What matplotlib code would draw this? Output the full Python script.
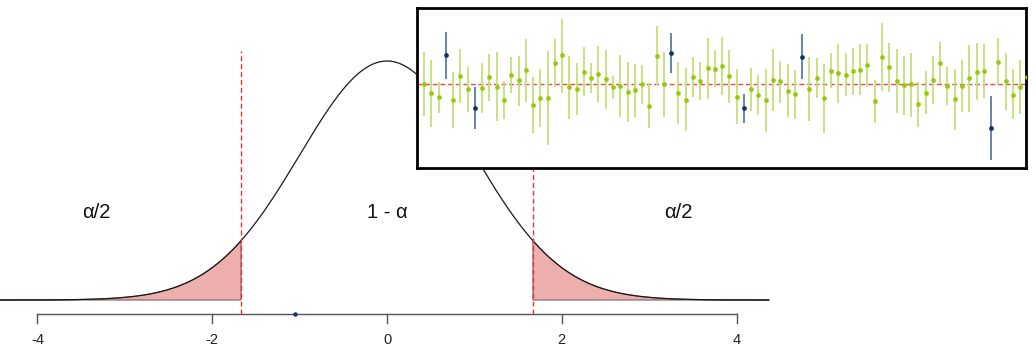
import numpy as np
import matplotlib.pyplot as plt

plt.rcParams['font.family'] = ['Liberation Sans', 'DejaVu Sans']

# --- main panel ---
crit = 1.67                      # dashed cut-offs at +/- crit
tick_vals = [-4, -2, 0, 2, 4]
region_labels = ["\u03b1/2", "1 - \u03b1", "\u03b1/2"]
region_x = [-3.33, 0.0, 3.33]
stray_dot_x = [-1.05]

# --- inset: 84 simulated intervals, relative to true value (0) ---
ci_mid = [0.00, -0.93, -1.37, 2.87, -1.63, 0.80, -0.53, -2.47, -0.43, 0.67,
          -0.30, -1.63, 0.90, 0.33, 1.33, -2.10, -1.43, -1.43, 2.10, 2.83,
          -0.33, -0.53, 1.20, 0.57, 0.97, 0.43, -0.37, -0.27, -0.80, -0.67,
          -0.07, -2.20, 2.80, -0.03, 3.10, -0.90, -1.60, 0.70, 0.30, 1.53,
          1.50, 1.80, 0.73, -1.30, -2.47, -0.57, -1.13, -1.67, 0.37, 0.23,
          -0.70, -1.03, 2.70, -0.57, 0.60, -1.47, 1.30, 1.03, 0.90, 1.27,
          1.40, 1.90, -1.77, 2.67, 1.63, 0.23, -0.17, -0.07, -2.00, -0.90,
          0.40, 2.07, -0.23, -1.57, -0.23, 0.53, 1.20, 1.27, -4.40, 2.17,
          0.27, -1.13, -0.33, 0.63]
ci_hi = [3.20, 2.37, 0.20, 5.17, 1.17, 3.47, 1.70, -0.37, 2.10, 2.97,
         3.13, 0.30, 2.70, 2.77, 4.43, 0.63, 1.47, 3.27, 4.43, 6.47,
         2.80, 2.10, 3.63, 2.10, 3.73, 3.33, 0.80, 2.83, 2.17, 1.97,
         1.83, 0.03, 5.77, 3.20, 5.10, 2.20, 1.53, 2.70, 2.20, 4.57,
         3.37, 4.70, 3.33, 1.43, -1.07, 1.53, 0.83, 1.43, 3.50, 2.27,
         1.93, 1.37, 4.93, 2.67, 2.57, 1.97, 3.10, 4.00, 3.07, 3.60,
         3.97, 4.00, 0.37, 6.03, 4.10, 3.43, 2.80, 3.10, 0.20, 1.27,
         2.80, 4.20, 1.70, 1.50, 2.33, 3.87, 4.07, 4.00, -1.20, 4.57,
         3.10, 1.47, 2.37, 3.37]
ci_lo = [-3.23, -4.30, -2.97, 0.50, -4.47, -1.97, -2.80, -4.57, -2.97, -1.70,
         -3.70, -3.57, -0.90, -2.20, -1.83, -4.90, -4.37, -6.17, -0.30, -0.90,
         -3.53, -3.13, -1.23, -0.97, -1.80, -2.50, -1.57, -3.37, -3.80, -3.37,
         -2.00, -4.47, -0.13, -3.37, 1.10, -4.03, -4.73, -1.37, -1.67, -1.57,
         -0.37, -1.13, -1.90, -4.03, -3.90, -2.70, -3.13, -4.87, -2.73, -1.90,
         -3.37, -3.50, 0.43, -3.73, -1.40, -4.90, -0.47, -1.97, -1.23, -1.13,
         -1.13, -0.30, -3.97, -0.70, -0.87, -2.97, -3.17, -3.30, -4.30, -3.03,
         -2.03, -0.03, -2.13, -4.63, -2.80, -2.80, -1.63, -1.47, -7.63, -0.23,
         -2.63, -3.57, -3.07, -2.93]

W, H = 1036, 357
fig = plt.figure(figsize=(W / 100, H / 100), dpi=100)
fig.patch.set_facecolor('white')

# pixel layout of the main panel
px_per_x = 87.4
x_zero_px = 387
base_px = 300
px_per_y = 239 / 0.39894


def ypx(p):
    return (base_px - p) / px_per_y


ax = fig.add_axes([0, 0, 1, 1])
ax.set_xlim(-x_zero_px / px_per_x, (W - x_zero_px) / px_per_x)
ax.set_ylim(ypx(H), ypx(0))
ax.axis('off')

xs = np.linspace(-4.45, 4.37, 800)
dens = np.exp(-xs ** 2 / 2) / np.sqrt(2 * np.pi)

# shaded tails
fill_col = '#ecafae'
for m, edge in [(xs <= -crit, -crit), (xs >= crit, crit)]:
    xx = np.r_[xs[m], edge] if edge < 0 else np.r_[edge, xs[m]]
    yy = np.exp(-xx ** 2 / 2) / np.sqrt(2 * np.pi)
    ax.fill(np.r_[xx, xx[-1], xx[0]], np.r_[yy, 0, 0], facecolor=fill_col,
            edgecolor='#7a5f5f', linewidth=0.8, zorder=1)

ax.plot(xs, dens, color='#1a1a1a', linewidth=0.9, zorder=2)

for c in (-crit, crit):
    ax.plot([c, c], [ypx(314), ypx(51)], color='#f03030', linewidth=1.0,
            linestyle=(0, (3.5, 2.2)), zorder=3)

# axis in R style
axis_y = ypx(314)
ax.plot([tick_vals[0], tick_vals[-1]], [axis_y, axis_y], color='#555555',
        linewidth=1.0, zorder=2)
for t in tick_vals:
    ax.plot([t, t], [axis_y, ypx(323)], color='#555555', linewidth=1.0)
    ax.text(t, ypx(340), str(t), ha='center', va='center', fontsize=10.5,
            color='#222222')

ax.plot(stray_dot_x, [axis_y], 'o', color='#0b3a6b', markersize=2.2, zorder=4)

for lx, lab in zip(region_x, region_labels):
    ax.text(lx, ypx(212), lab, ha='center', va='center', fontsize=14.5,
            color='#111111')

# --- inset ---
left_px, right_px, top_px, bot_px = 417, 1025.5, 8, 167.5
axi = fig.add_axes([left_px / W, 1 - bot_px / H, (right_px - left_px) / W,
                    (bot_px - top_px) / H])
axi.set_facecolor('white')
idx = np.arange(1, len(ci_mid) + 1)
sp = 7.27
axi.set_xlim(1 - (424 - left_px) / sp, 1 + (right_px - 424) / sp)
line_px = 83.7
axi.set_ylim(-(bot_px - line_px) / 10, (line_px - top_px) / 10)
axi.set_xticks([])
axi.set_yticks([])
for s in axi.spines.values():
    s.set_linewidth(2)
    s.set_color('black')

axi.axhline(0, color='#ec4a44', linewidth=1.0, linestyle=(0, (3.5, 2)),
            zorder=1)

mid = np.array(ci_mid)
lo = np.array(ci_lo)
hi = np.array(ci_hi)
miss = (lo > 0) | (hi < 0)
ok = ~miss
axi.vlines(idx[ok], lo[ok], hi[ok], color='#c2e07a', linewidth=1.3, zorder=2)
axi.plot(idx[ok], mid[ok], 'o', color='#97c90a', markersize=3.4,
         markeredgewidth=0, zorder=3)
axi.vlines(idx[miss], lo[miss], hi[miss], color='#5a7ca0', linewidth=1.3,
           zorder=2)
axi.plot(idx[miss], mid[miss], 'o', color='#0b3566', markersize=3.4,
         markeredgewidth=0, zorder=3)

fig.savefig('out.png', dpi=100, facecolor='white')
